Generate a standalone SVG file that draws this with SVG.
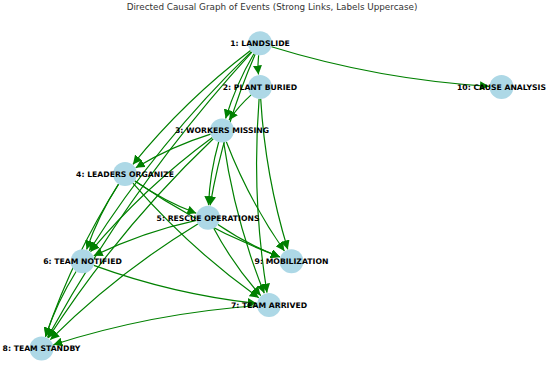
<svg xmlns="http://www.w3.org/2000/svg" width="550" height="366" viewBox="0 0 550 366">
<style>
.e{fill:none;stroke:#008000;stroke-width:1.2;marker-end:url(#ah)}
.n circle{fill:#add8e6}
.n text{font-family:"DejaVu Sans",sans-serif;font-weight:bold;font-size:7.7px;fill:#000;text-anchor:middle}
.t{font-family:"DejaVu Sans",sans-serif;font-size:8.8px;fill:#333;text-anchor:middle}
</style>
<defs>
<marker id="ah" viewBox="0 0 9 9" refX="9" refY="4.5" markerWidth="9" markerHeight="9" markerUnits="userSpaceOnUse" orient="auto">
<path d="M0,0 L9,4.5 L0,9 z" fill="#008000"/>
</marker>
</defs>
<rect width="550" height="366" fill="#fff"/>
<text class="t" x="272" y="10">Directed Causal Graph of Events (Strong Links, Labels Uppercase)</text>
<g id="edges">
<path class="e" d="M258.6,55.2 Q257.4,65.1 258.5,74.5"/>
<path class="e" d="M271.5,46.8 Q378.1,79.6 489,86.3"/>
<path class="e" d="M253.9,53.7 Q235.8,84.6 225.6,118.5"/>
<path class="e" d="M250.5,50.6 Q184.7,100.6 132.9,164.4"/>
<path class="e" d="M255.2,54.3 Q223.5,127.4 210.1,205.4"/>
<path class="e" d="M251.4,51.6 Q158.2,141.7 89.2,250.7"/>
<path class="e" d="M251.9,52.2 Q132.4,182.8 47.5,337.5"/>
<path class="e" d="M251.1,94.9 Q238.4,106.4 229,120.2"/>
<path class="e" d="M259.1,98.9 Q251.4,196.4 267,292.6"/>
<path class="e" d="M260.7,98.9 Q265.3,176 287.8,249.4"/>
<path class="e" d="M210.6,134.1 Q170.9,146.5 135.7,167.7"/>
<path class="e" d="M218.7,142 Q209.8,173.3 208.5,205.2"/>
<path class="e" d="M212.3,137.6 Q144.4,187.5 90.5,251.7"/>
<path class="e" d="M223.7,142.4 Q235,220.5 264.3,293.3"/>
<path class="e" d="M213.3,138.8 Q118.7,228.7 48.3,338"/>
<path class="e" d="M226.3,141.7 Q248.9,200.1 284.4,251"/>
<path class="e" d="M134.9,180.9 Q163.9,200.9 196.3,213.3"/>
<path class="e" d="M118.5,184.2 Q98.5,215.2 86.6,249.5"/>
<path class="e" d="M132.9,183.2 Q189.2,248.1 258.8,297.7"/>
<path class="e" d="M118.6,184.2 Q72.8,256.3 45.5,336.7"/>
<path class="e" d="M134.9,180.9 Q203,227.7 279.8,256.9"/>
<path class="e" d="M196.3,220.3 Q142.6,232 93.7,255.8"/>
<path class="e" d="M213.7,228.3 Q233.3,265 260.7,295.6"/>
<path class="e" d="M197.8,223.9 Q116.9,273.1 50.3,339.7"/>
<path class="e" d="M217.9,224.5 Q247.1,244.5 279.8,256.9"/>
<path class="e" d="M93.8,265.4 Q173.1,294.3 256.6,303.5"/>
<path class="e" d="M76.1,271.5 Q56.8,302.4 45.4,336.6"/>
<path class="e" d="M257,305.7 Q152.6,313.1 53.4,344.7"/>
</g>
<g id="n1" class="n"><circle cx="260" cy="43.3" r="12"/><text x="260" y="46.1">1: LANDSLIDE</text></g>
<g id="n2" class="n"><circle cx="260" cy="86.9" r="12"/><text x="260" y="89.7">2: PLANT BURIED</text></g>
<g id="n3" class="n"><circle cx="222" cy="130.5" r="12"/><text x="222" y="133.3">3: WORKERS MISSING</text></g>
<g id="n4" class="n"><circle cx="125" cy="174.1" r="12"/><text x="125" y="176.9">4: LEADERS ORGANIZE</text></g>
<g id="n5" class="n"><circle cx="208" cy="217.7" r="12"/><text x="208" y="220.5">5: RESCUE OPERATIONS</text></g>
<g id="n6" class="n"><circle cx="82.5" cy="261.3" r="12"/><text x="82.5" y="264.1">6: TEAM NOTIFIED</text></g>
<g id="n7" class="n"><circle cx="269" cy="304.9" r="12"/><text x="269" y="307.7">7: TEAM ARRIVED</text></g>
<g id="n8" class="n"><circle cx="41.5" cy="348.5" r="12"/><text x="41.5" y="351.3">8: TEAM STANDBY</text></g>
<g id="n9" class="n"><circle cx="291.5" cy="261.3" r="12"/><text x="291.5" y="264.1">9: MOBILIZATION</text></g>
<g id="n10" class="n"><circle cx="501.5" cy="87" r="12"/><text x="501.5" y="89.8">10: CAUSE ANALYSIS</text></g>
</svg>
